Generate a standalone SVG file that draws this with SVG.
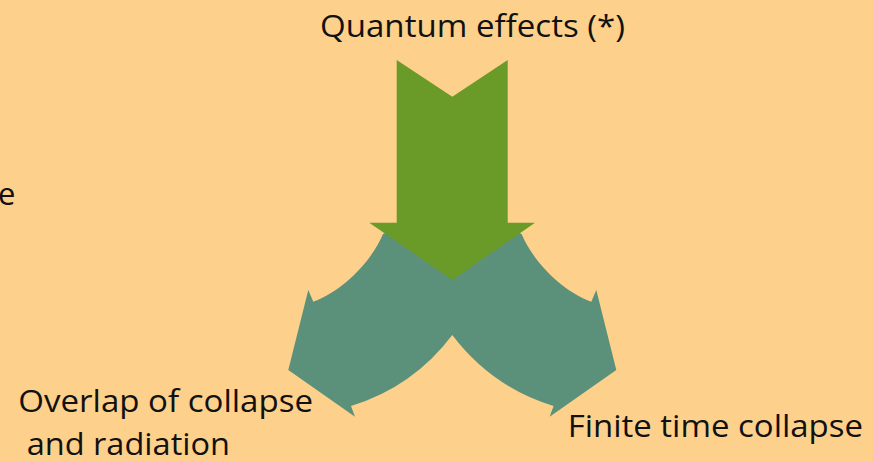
<svg xmlns="http://www.w3.org/2000/svg" width="873" height="461" viewBox="0 0 873 461">
  <style>
    .lbl { font-family: "Open Sans", "Liberation Sans", sans-serif; font-size: 31px; fill: #111111; }
    .teal { fill: #5b917a; }
    .green { fill: #6a9a27; }
  </style>
  <rect x="0" y="0" width="873" height="461" fill="#fdd08b"/>
  <g id="split-arrows">
    <path class="teal" d="M 452.3,205 L 383,234 C 372,260 345,290 313.3,301.7 L 308.3,290 L 288.3,370 L 355,416.7 L 351,406 Q 413,387 452.3,335 Q 491.6,387 553.6,406 L 549.6,416.7 L 616.3,370 L 596.3,290 L 591.3,301.7 C 559.6,290 532.6,260 521.6,234 Z"/>
  </g>
  <g id="quantum-arrow">
    <path class="green" d="M 396.7,60 L 452.3,96.7 L 507.7,60 L 507.7,222.7 L 535,222.7 L 452.3,280 L 369.3,222.7 L 396.7,222.7 Z"/>
  </g>
  <g id="label-quantum">
    <text class="lbl" x="320" y="37" textLength="305" lengthAdjust="spacingAndGlyphs">Quantum effects (*)</text>
  </g>
  <g id="label-overlap">
    <text class="lbl" x="18.3" y="411.7" textLength="294.7" lengthAdjust="spacingAndGlyphs">Overlap of collapse</text>
    <text class="lbl" x="26.7" y="455" textLength="203.3" lengthAdjust="spacingAndGlyphs">and radiation</text>
  </g>
  <g id="label-finite">
    <text class="lbl" x="567.7" y="436.7" textLength="295.3" lengthAdjust="spacingAndGlyphs">Finite time collapse</text>
  </g>
  <g id="label-cut">
    <text class="lbl" x="15.5" y="205" text-anchor="end">e</text>
  </g>
</svg>
